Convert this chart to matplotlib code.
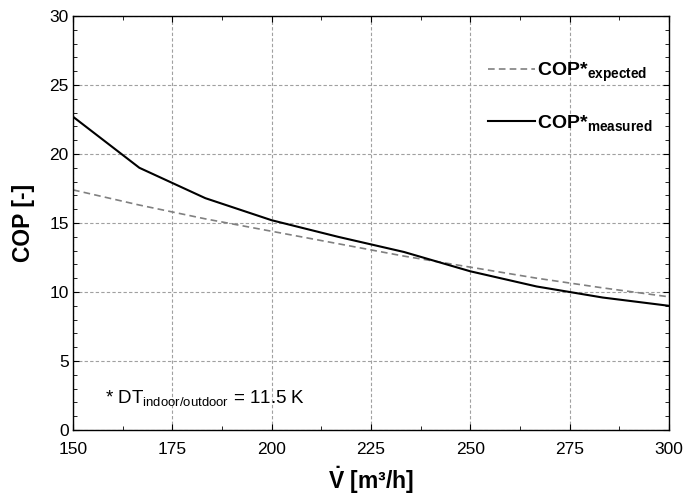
import matplotlib
matplotlib.use('Agg')
import matplotlib.pyplot as plt
from matplotlib.ticker import MultipleLocator

plt.rcParams['font.family'] = ['Liberation Sans', 'DejaVu Sans']
plt.rcParams['mathtext.fontset'] = 'custom'
plt.rcParams['mathtext.rm'] = 'Liberation Sans'
plt.rcParams['mathtext.it'] = 'Liberation Sans:italic'
plt.rcParams['mathtext.bf'] = 'Liberation Sans:bold'

# volume flow [m3/h]
flow = [150, 166.7, 183.3, 200, 216.7, 233.3, 250, 266.7, 283.3, 300]
cop_expected = [17.4, 16.3, 15.3, 14.4, 13.5, 12.6, 11.8, 11.0, 10.3, 9.65]
cop_measured = [22.7, 19.0, 16.8, 15.2, 14.0, 12.9, 11.5, 10.4, 9.6, 9.0]

x_ticks = [150, 175, 200, 225, 250, 275, 300]
y_ticks = [0, 5, 10, 15, 20, 25, 30]

fig = plt.figure(figsize=(6.85, 5.0), dpi=100)
ax = fig.add_axes([0.1066, 0.14, 0.87, 0.828])

ax.plot(flow, cop_expected, color='#808080', ls=(0, (4, 2.5)), lw=1.2,
        label=r'COP*$_{\mathbf{expected}}$')
ax.plot(flow, cop_measured, color='black', lw=1.5,
        label=r'COP*$_{\mathbf{measured}}$')

ax.set_xlim(150, 300)
ax.set_ylim(0, 30)
ax.set_xticks(x_ticks)
ax.set_yticks(y_ticks)
ax.xaxis.set_minor_locator(MultipleLocator(12.5))
ax.yaxis.set_minor_locator(MultipleLocator(1))
ax.tick_params(which='both', direction='in', top=True, right=True, labelsize=12.5)
ax.tick_params(axis='x', pad=9)
ax.tick_params(axis='y', pad=3)
ax.tick_params(which='major', length=4)
ax.tick_params(which='minor', length=3)

# dashed grid at major ticks
ax.grid(True, which='major', color='#a0a0a0', ls=(0, (3, 2)), lw=0.8)

ax.set_xlabel(r'$\mathbf{\dot{V}}$ [m³/h]', fontsize=16.5, fontweight='bold', labelpad=5)
ax.set_ylabel('COP [-]', fontsize=16.5, fontweight='bold', labelpad=10)

ax.text(0.053, 0.065, r'* DT$_{\mathrm{indoor/outdoor}}$ = 11.5 K', transform=ax.transAxes,
        fontsize=13.5)

leg = ax.legend(loc='upper left', bbox_to_anchor=(0.667, 0.935), frameon=False,
                handlelength=2.4, handletextpad=0.12, labelspacing=1.5,
                prop={'weight': 'bold', 'size': 14})

for s in ax.spines.values():
    s.set_linewidth(1.0)

fig.savefig('out.png', dpi=100)
